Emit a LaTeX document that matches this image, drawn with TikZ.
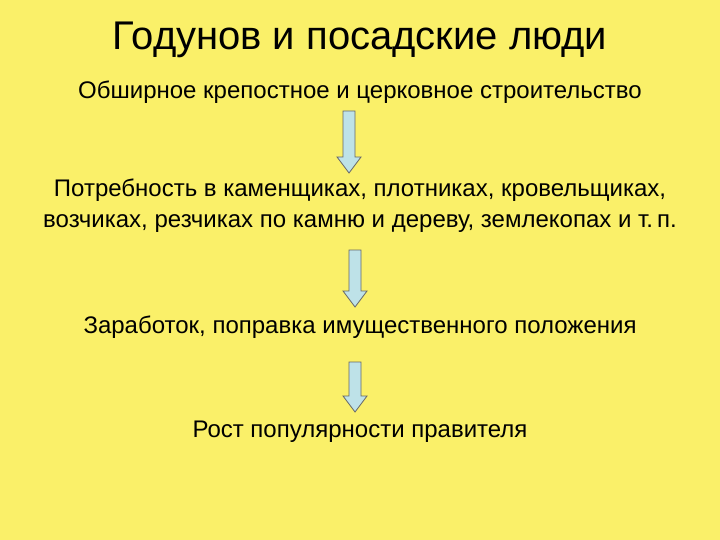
\documentclass[tikz,border=0pt]{standalone}
\usepackage{fontspec}
\setmainfont{Liberation Sans}
\definecolor{bg}{RGB}{250,240,105}
\definecolor{arr}{RGB}{190,226,232}
\tikzset{txt/.style={font=\fontsize{24}{31}\selectfont, align=center},
 blk/.style={fill=arr,draw=black!60,line width=0.8pt,line join=miter}}
\newcommand{\blockarrow}[3]{\draw[blk] (#1-6,#2) -- (#1+6,#2) -- (#1+6,#3-16) -- (#1+12,#3-16) -- (#1,#3) -- (#1-12,#3-16) -- (#1-6,#3-16) -- cycle;}
\begin{document}
\begin{tikzpicture}[x=1pt,y=-1pt]
\fill[bg] (0,0) rectangle (720,540);
\useasboundingbox (0,0) rectangle (720,540);
\node (t) at (360,40) {\fontsize{40}{44}\selectfont Годунов и посадские люди};
\node[txt] (a) at (360,92) {Обширное крепостное и церковное строительство};
\node[txt] (b) at (360,206) {Потребность в каменщиках, плотниках, кровельщиках,\\возчиках, резчиках по камню и дереву, землекопах и т.\,п.};
\node[txt] (c) at (360,327) {Заработок, поправка имущественного положения};
\node[txt] (d) at (360,432) {Рост популярности правителя};
\blockarrow{349}{111}{173}
\blockarrow{355}{250}{307}
\blockarrow{355}{362}{412}
\end{tikzpicture}
\end{document}
